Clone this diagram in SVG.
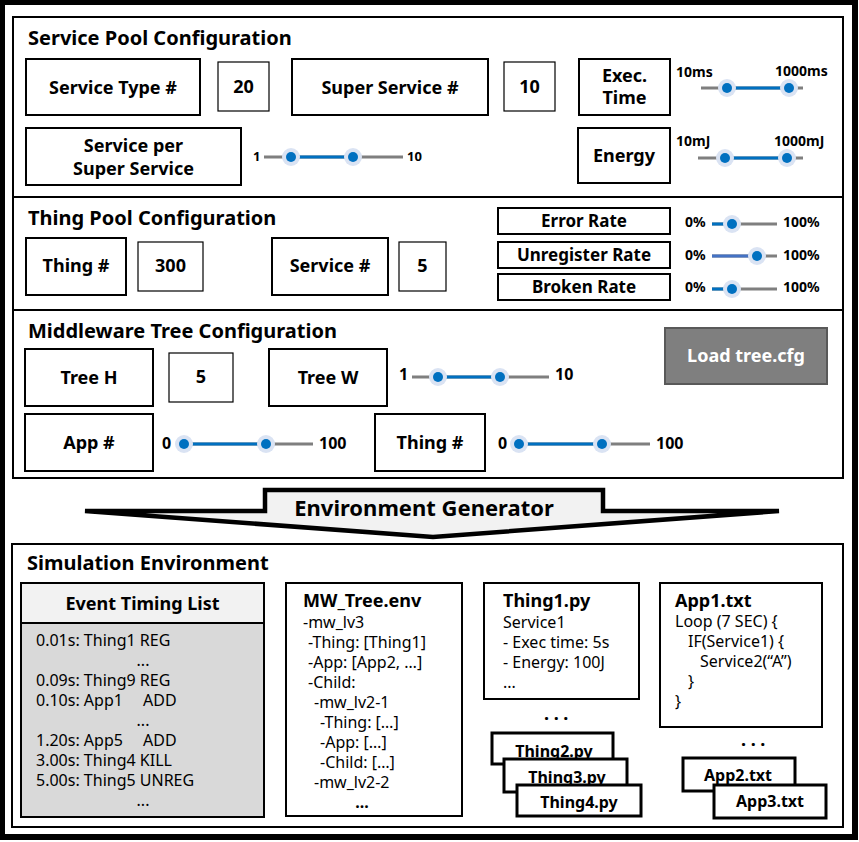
<svg xmlns="http://www.w3.org/2000/svg" width="859" height="842" viewBox="0 0 859 842">
<style>
text{font-family:"Noto Sans","Liberation Sans",sans-serif;fill:#000}
.t{font-size:20px;font-weight:bold}
.b{font-size:18px;font-weight:bold;text-anchor:middle}
.v{font-size:18px;font-weight:bold;text-anchor:middle}
.box{fill:#fff;stroke:#000;stroke-width:2}
.vbox{fill:#fff;stroke:#000;stroke-width:1.2}
.rbox{fill:#fff;stroke:#000;stroke-width:2}
.sec{fill:none;stroke:#000;stroke-width:2}
.gr{stroke:#7f7f7f;stroke-width:3}
.bl{stroke:#0070c0;stroke-width:3}
.bl2{stroke:#4472c4;stroke-width:3}
.halo{fill:#dae3f3}
.dot{fill:#0070c0}
.s13{font-size:13px;font-weight:bold}
.s14{font-size:14px;font-weight:bold}
.s16{font-size:16px;font-weight:bold}
.r{font-size:16px}
.h{font-size:18px;font-weight:bold}
.fb{fill:#fff;stroke:#000;stroke-width:3}
.fbt{font-size:16px;font-weight:bold;text-anchor:middle}
</style>
<defs>
<g id="knob"><circle r="9" class="halo"/><circle r="5" class="dot"/></g>
</defs>
<rect x="2" y="2" width="853" height="835" fill="#fff" stroke="#000" stroke-width="6"/>

<g id="service-pool">
<rect class="sec" x="13" y="17" width="830" height="180"/>
<text class="t" x="28" y="45">Service Pool Configuration</text>
<rect class="box" x="26" y="59" width="174" height="56"/>
<text class="b" x="113" y="94">Service Type #</text>
<rect class="vbox" x="218" y="62" width="51" height="49"/>
<text class="v" x="243.5" y="93">20</text>
<rect class="box" x="292" y="59" width="196" height="56"/>
<text class="b" x="390" y="94">Super Service #</text>
<rect class="vbox" x="504" y="62" width="51" height="49"/>
<text class="v" x="529.5" y="93">10</text>
<rect class="box" x="579" y="59" width="91" height="56"/>
<text class="b" x="624.5" y="82">Exec.</text>
<text class="b" x="624.5" y="104">Time</text>
<rect class="box" x="578" y="128" width="92" height="55"/>
<text class="b" x="624" y="162">Energy</text>
<rect class="box" x="26" y="128" width="215" height="57"/>
<text class="b" x="133.5" y="152">Service per</text>
<text class="b" x="133.5" y="175">Super Service</text>
</g>

<g id="slider-exec">
<text class="s14" x="676" y="77">10ms</text>
<text class="s14" x="775" y="76">1000ms</text>
<line class="gr" x1="701" y1="88" x2="803" y2="88"/>
<line class="bl" x1="727" y1="88" x2="789" y2="88"/>
<use href="#knob" x="727" y="88"/><use href="#knob" x="789" y="88"/>
</g>
<g id="slider-energy">
<text class="s14" x="676" y="146">10mJ</text>
<text class="s14" x="774" y="146">1000mJ</text>
<line class="gr" x1="698" y1="158" x2="803" y2="158"/>
<line class="bl" x1="725" y1="158" x2="787" y2="158"/>
<use href="#knob" x="725" y="158"/><use href="#knob" x="787" y="158"/>
</g>
<g id="slider-sps">
<text class="s13" x="253" y="161">1</text>
<text class="s13" x="407" y="161">10</text>
<line class="gr" x1="264" y1="157" x2="403" y2="157"/>
<line class="bl" x1="291" y1="157" x2="353" y2="157"/>
<use href="#knob" x="291" y="157"/><use href="#knob" x="353" y="157"/>
</g>

<g id="thing-pool">
<rect class="sec" x="13" y="197" width="830" height="113"/>
<text class="t" x="28" y="225">Thing Pool Configuration</text>
<rect class="box" x="26" y="238" width="100" height="57"/>
<text class="b" x="76" y="272">Thing #</text>
<rect class="vbox" x="138" y="242" width="65" height="49"/>
<text class="v" x="170.5" y="272">300</text>
<rect class="box" x="272" y="238" width="116" height="57"/>
<text class="b" x="330" y="272">Service #</text>
<rect class="vbox" x="399" y="242" width="47" height="49"/>
<text class="v" x="422.5" y="272">5</text>
<rect class="rbox" x="498" y="208" width="172" height="26"/>
<text class="b" x="584" y="227" style="font-size:17px">Error Rate</text>
<rect class="rbox" x="498" y="242" width="172" height="26"/>
<text class="b" x="584" y="261" style="font-size:17px">Unregister Rate</text>
<rect class="rbox" x="498" y="274" width="172" height="26"/>
<text class="b" x="584" y="293" style="font-size:17px">Broken Rate</text>
</g>
<g id="slider-error">
<text class="s14" x="685" y="227">0%</text>
<text class="s14" x="783" y="227">100%</text>
<line class="gr" x1="712" y1="224" x2="777" y2="224"/>
<line class="bl" x1="712" y1="224" x2="732" y2="224"/>
<use href="#knob" x="732" y="224"/>
</g>
<g id="slider-unreg">
<text class="s14" x="685" y="260">0%</text>
<text class="s14" x="783" y="260">100%</text>
<line class="gr" x1="712" y1="256" x2="777" y2="256"/>
<line class="bl2" x1="712" y1="256" x2="757" y2="256"/>
<use href="#knob" x="757" y="256"/>
</g>
<g id="slider-broken">
<text class="s14" x="685" y="292">0%</text>
<text class="s14" x="783" y="292">100%</text>
<line class="gr" x1="712" y1="289" x2="777" y2="289"/>
<line class="bl" x1="712" y1="289" x2="732" y2="289"/>
<use href="#knob" x="732" y="289"/>
</g>

<g id="middleware-tree">
<rect class="sec" x="13" y="310" width="830" height="168"/>
<text class="t" x="28" y="338">Middleware Tree Configuration</text>
<rect class="box" x="25" y="349" width="128" height="57"/>
<text class="b" x="89" y="384">Tree H</text>
<rect class="vbox" x="169" y="353" width="64" height="49"/>
<text class="v" x="201" y="383">5</text>
<rect class="box" x="269" y="349" width="118" height="57"/>
<text class="b" x="328" y="384">Tree W</text>
<rect class="box" x="25" y="414" width="128" height="57"/>
<text class="b" x="89" y="449">App #</text>
<rect class="box" x="375" y="414" width="110" height="57"/>
<text class="b" x="430" y="449">Thing #</text>
</g>
<g id="load-button">
<rect x="665" y="328" width="162" height="56" fill="#7f7f7f" stroke="#595959" stroke-width="2"/>
<text class="b" x="746" y="362" style="fill:#fff">Load tree.cfg</text>
</g>
<g id="slider-treew">
<text class="s16" x="399" y="380">1</text>
<text class="s16" x="555" y="380">10</text>
<line class="gr" x1="412" y1="377" x2="549" y2="377"/>
<line class="bl" x1="438" y1="377" x2="500" y2="377"/>
<use href="#knob" x="438" y="377"/><use href="#knob" x="500" y="377"/>
</g>
<g id="slider-app">
<text class="s16" x="162" y="449">0</text>
<text class="s16" x="319" y="449">100</text>
<line class="gr" x1="184" y1="444" x2="313" y2="444"/>
<line class="bl" x1="184" y1="444" x2="266" y2="444"/>
<use href="#knob" x="184" y="444"/><use href="#knob" x="266" y="444"/>
</g>
<g id="slider-thing">
<text class="s16" x="498" y="449">0</text>
<text class="s16" x="656" y="449">100</text>
<line class="gr" x1="519" y1="444" x2="650" y2="444"/>
<line class="bl" x1="519" y1="444" x2="602" y2="444"/>
<use href="#knob" x="519" y="444"/><use href="#knob" x="602" y="444"/>
</g>

<g id="connectors">
<polygon points="265,490 603,490 603,511 779,511 433,537 85,511 265,511" fill="#f2f2f2" stroke="#000" stroke-width="4.5"/>
</g>
<g id="env-generator">
<text x="424" y="516" style="font-size:22px;font-weight:bold;text-anchor:middle">Environment Generator</text>
</g>

<g id="simulation-environment">
<rect class="sec" x="12" y="544" width="831" height="283"/>
<text class="t" x="27" y="570">Simulation Environment</text>
</g>

<g id="event-timing-list">
<rect x="21" y="623" width="243" height="194" fill="#d9d9d9" stroke="#000" stroke-width="2"/>
<rect x="21" y="583" width="243" height="40" fill="#f2f2f2" stroke="#000" stroke-width="2"/>
<text class="b" x="142.5" y="610">Event Timing List</text>
<text class="r" x="36" y="646">0.01s: Thing1 REG</text>
<text class="r" x="143" y="666" text-anchor="middle">...</text>
<text class="r" x="36" y="686">0.09s: Thing9 REG</text>
<text class="r" x="36" y="706">0.10s: App1<tspan x="143">ADD</tspan></text>
<text class="r" x="143" y="726" text-anchor="middle">...</text>
<text class="r" x="36" y="746">1.20s: App5<tspan x="143">ADD</tspan></text>
<text class="r" x="36" y="766">3.00s: Thing4 KILL</text>
<text class="r" x="36" y="786">5.00s: Thing5 UNREG</text>
<text class="r" x="143" y="806" text-anchor="middle">...</text>
</g>

<g id="mw-tree-env">
<rect class="box" x="286" y="583" width="176" height="233"/>
<text class="h" x="303" y="607">MW_Tree.env</text>
<text class="r" x="303" y="628">-mw_lv3</text>
<text class="r" x="308" y="648">-Thing: [Thing1]</text>
<text class="r" x="308" y="668">-App: [App2, …]</text>
<text class="r" x="308" y="688">-Child:</text>
<text class="r" x="314" y="708">-mw_lv2-1</text>
<text class="r" x="320" y="728">-Thing: […]</text>
<text class="r" x="320" y="748">-App: […]</text>
<text class="r" x="320" y="768">-Child: […]</text>
<text class="r" x="314" y="788">-mw_lv2-2</text>
<text x="362" y="808" style="font-size:16px;font-weight:bold;text-anchor:middle">...</text>
</g>

<g id="thing1-py">
<rect class="box" x="484" y="583" width="155" height="116"/>
<text class="h" x="503" y="607">Thing1.py</text>
<text class="r" x="503" y="628">Service1</text>
<text class="r" x="503" y="648">- Exec time: 5s</text>
<text class="r" x="503" y="668">- Energy: 100J</text>
<text class="r" x="503" y="688">...</text>
</g>
<text x="544" y="720" style="font-size:18px;font-weight:bold;letter-spacing:4.6px">...</text>
<g id="thing2-py"><rect class="fb" x="492" y="733" width="121" height="31"/><text class="fbt" x="554" y="757">Thing2.py</text></g>
<g id="thing3-py"><rect class="fb" x="504" y="759" width="123" height="33"/><text class="fbt" x="567" y="783">Thing3.py</text></g>
<g id="thing4-py"><rect class="fb" x="517" y="785" width="124" height="31"/><text class="fbt" x="579" y="808">Thing4.py</text></g>

<g id="app1-txt">
<rect class="box" x="660" y="583" width="162" height="144"/>
<text class="h" x="675" y="607">App1.txt</text>
<text class="r" x="675" y="627">Loop (7 SEC) {</text>
<text class="r" x="688" y="647">IF(Service1) {</text>
<text class="r" x="700" y="667">Service2(“A”)</text>
<text class="r" x="688" y="687">}</text>
<text class="r" x="675" y="707">}</text>
</g>
<text x="741" y="746" style="font-size:18px;font-weight:bold;letter-spacing:4.6px">...</text>
<g id="app2-txt"><rect class="fb" x="683" y="758" width="112" height="33"/><text class="fbt" x="738" y="781">App2.txt</text></g>
<g id="app3-txt"><rect class="fb" x="714" y="785" width="112" height="33"/><text class="fbt" x="770" y="807">App3.txt</text></g>
</svg>
